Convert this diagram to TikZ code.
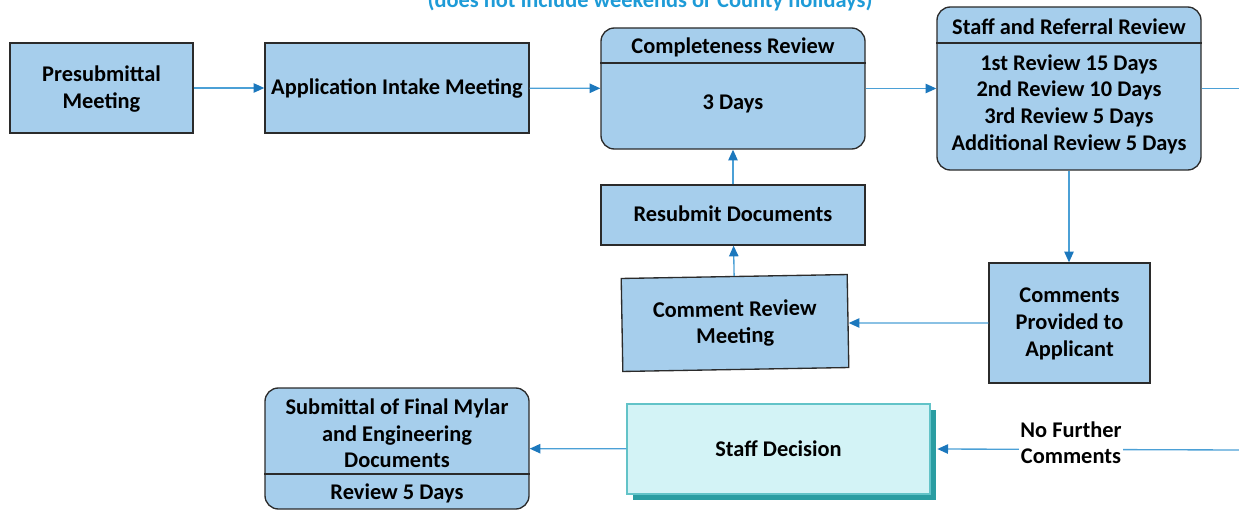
\documentclass[tikz,border=0pt]{standalone}
\usepackage{fontspec}
\setmainfont{Carlito}
\usetikzlibrary{arrows.meta,shadows}
\definecolor{BoxFill}{HTML}{A6CEEC}
\definecolor{BoxLine}{HTML}{2B2B2B}
\definecolor{LinkBlue}{HTML}{4BA0D6}
\definecolor{TipBlue}{HTML}{1C78BD}
\definecolor{TitleBlue}{HTML}{1E9BD7}
\definecolor{PaleCyan}{HTML}{D3F3F6}
\definecolor{CyanEdge}{HTML}{62C3C8}
\definecolor{DeepTeal}{HTML}{2A9DA2}

\begin{document}
\begin{tikzpicture}[x=0.75pt,y=-0.75pt,
  every node/.style={font=\fontsize{16.8}{20}\selectfont\bfseries,text=black,align=center},
  box/.style={draw=BoxLine,fill=BoxFill,line width=1pt,minimum width=198pt,minimum height=67.5pt,inner sep=2pt,text depth=1.5pt},
  roundbox/.style={box,rounded corners=10pt},
  link/.style={draw=LinkBlue,line width=1pt,-{Triangle[length=8pt,width=7pt,color=TipBlue]}}]
\useasboundingbox (0,0) rectangle (1239,510);
\node[text=TitleBlue,anchor=base] (note) at (650,7.5) {(does not include weekends or County holidays)};
% top row
\node[box,minimum width=137.25pt] (pre) at (101.5,88) {Presubmittal\\Meeting};
\node[box] (intake) at (397,88) {Application Intake Meeting};
\node[roundbox,minimum height=90.75pt] (complete) at (733,88.5) {};
\draw[BoxLine,line width=1pt] (complete.west |- 0,63) -- (complete.east |- 0,63);
\node (completeHead) at (733,47) {Completeness Review};
\node (completeBody) at (733,104) {3 Days};
\node[roundbox,minimum height=122.25pt] (staff) at (1069,88.5) {};
\draw[BoxLine,line width=1pt] (staff.west |- 0,43) -- (staff.east |- 0,43);
\node (staffHead) at (1069,26.5) {Staff and Referral Review};
\node (staffBody) at (1069,104) {1st Review 15 Days\\2nd Review 10 Days\\3rd Review 5 Days\\Additional Review 5 Days};
% loop back
\node[box,minimum height=45pt] (resubmit) at (733,215) {Resubmit Documents};
\node[box,minimum width=169.5pt,minimum height=69.75pt,rotate=1] (crm) at (735,323) {Comment Review\\Meeting};
\node[box,minimum width=120.75pt,minimum height=90pt] (cpa) at (1069.5,323) {Comments\\Provided to\\Applicant};
% bottom row
\node[roundbox,minimum height=90.75pt] (mylar) at (397,448.5) {};
\draw[BoxLine,line width=1pt] (mylar.west |- 0,474) -- (mylar.east |- 0,474);
\node (mylarHead) at (397,433.5) {Submittal of Final Mylar\\and Engineering\\Documents};
\node (mylarBody) at (397,493.5) {Review 5 Days};
\node[draw=CyanEdge,fill=PaleCyan,line width=1pt,minimum width=227.25pt,minimum height=67.5pt,
  drop shadow={shadow xshift=4.5pt,shadow yshift=-4.5pt,fill=DeepTeal,opacity=1}] (decision) at (778.5,449) {Staff Decision};
\coordinate (rimTop) at (1239,88);
\coordinate (rimLow) at (1239,450);
% connectors
\draw[link] (pre) -- (intake);
\draw[link] (intake) -- (complete);
\draw[link] (complete) -- (staff);
\draw[draw=LinkBlue,line width=1pt] (staff.east) -- (staff.east -| rimTop);
\draw[link] (staff.south) -- (staff.south |- cpa.north);
\draw[link] (cpa) -- (crm);
\draw[link] (crm) -- (resubmit);
\draw[link] (resubmit) -- (complete);
\draw[link] (rimLow) -- node[fill=white,pos=0.557,yshift=5pt,inner sep=1pt] (nofurther) {No Further\\Comments} ([xshift=5pt]decision.east);
\draw[link] (decision) -- (mylar);
\end{tikzpicture}
\end{document}
